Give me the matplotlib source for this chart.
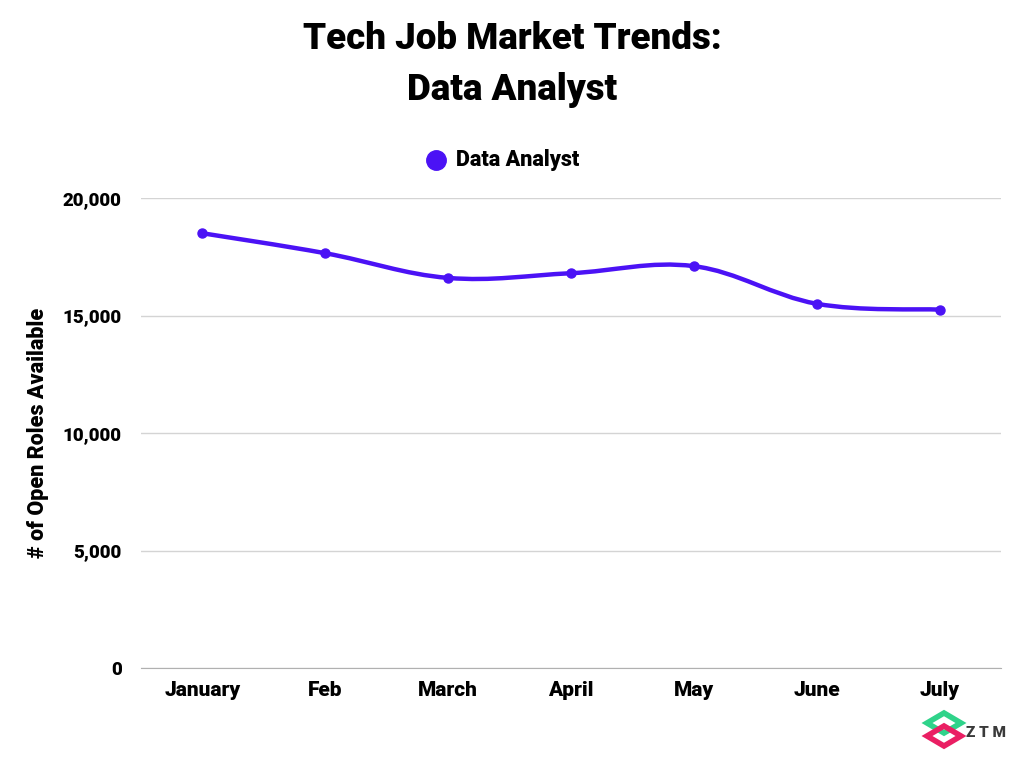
import numpy as np
import matplotlib.pyplot as plt
from matplotlib.path import Path
from matplotlib.patches import PathPatch, Polygon
from matplotlib.ticker import FuncFormatter

months = ['January', 'Feb', 'March', 'April', 'May', 'June', 'July']
data_analyst = [18500, 17650, 16600, 16800, 17100, 15500, 15250]

kolor = '#4B12F5'
font = 'Roboto'

fig = plt.figure(figsize=(10.24, 7.68), dpi=100)
ax = fig.add_axes([141/1024, 1-668/768, 860/1024, 470/768])

x = np.arange(len(months))
y = np.array(data_analyst, dtype=float)

# gladka linia - spline kardynalny jako krzywe Beziera
k = 0.36
m = np.zeros((len(x), 2))
pts = np.column_stack([x, y])
for i in range(len(x)):
    a = pts[max(i-1, 0)]
    b = pts[min(i+1, len(x)-1)]
    m[i] = (b - a) * k
verts = [tuple(pts[0])]
codes = [Path.MOVETO]
for i in range(len(x)-1):
    c1 = pts[i] + m[i]/2
    c2 = pts[i+1] - m[i+1]/2
    verts += [tuple(c1), tuple(c2), tuple(pts[i+1])]
    codes += [Path.CURVE4]*3
ax.add_patch(PathPatch(Path(verts, codes), fill=False, edgecolor=kolor, lw=3.2,
                       capstyle='round', joinstyle='round', zorder=3))
ax.plot(x, y, 'o', color=kolor, ms=6.5, zorder=4)

ax.set_xlim(-0.5, 6.5)
ax.set_ylim(0, 20000)
ax.set_yticks([0, 5000, 10000, 15000, 20000])
ax.yaxis.set_major_formatter(FuncFormatter(lambda v, p: f'{int(v):,}'))
ax.set_xticks(x)
ax.set_xticklabels(months)
ax.grid(axis='y', color='#d4d4d4', lw=1)
ax.set_axisbelow(True)
for s in ['top', 'right', 'left']:
    ax.spines[s].set_visible(False)
ax.spines['bottom'].set_color('#b0b0b0')
ax.tick_params(length=0)
ax.tick_params(axis='y', pad=14)
ax.tick_params(axis='x', pad=9)
for lab in ax.get_yticklabels():
    lab.set_fontfamily(font)
    lab.set_fontweight('black')
    lab.set_fontsize(13.5)
for lab in ax.get_xticklabels():
    lab.set_fontfamily(font)
    lab.set_fontweight('black')
    lab.set_fontsize(15)
ax.set_ylabel('# of Open Roles Available', fontfamily=font, fontweight='black',
              fontsize=15.5, labelpad=10)

fig.text(0.5, 1-39/768, 'Tech Job Market Trends:', ha='center', va='center',
         fontfamily=font, fontweight='black', fontsize=26.5)
fig.text(0.5, 1-90/768, 'Data Analyst', ha='center', va='center',
         fontfamily=font, fontweight='black', fontsize=26.5)

# legenda
fig.lines.append(plt.Line2D([436/1024], [1-160/768], marker='o', ms=14, color=kolor,
                            transform=fig.transFigure))
fig.text(456/1024, 1-160/768, 'Data Analyst', ha='left', va='center',
         fontfamily=font, fontweight='black', fontsize=15.5)

# logo ZTM
lax = fig.add_axes([920/1024, 1-754/768, 48/1024, 48/768])
lax.set_xlim(0, 48)
lax.set_ylim(0, 48)
lax.axis('off')
lax.add_patch(Polygon([(7, 31), (24, 41), (41, 31), (24, 21)], closed=True, fill=False,
                      edgecolor='#2fd38a', lw=4))
lax.add_patch(Polygon([(7, 18), (24, 28), (41, 18), (24, 8)], closed=True, fill=False,
                      edgecolor='#ea1f63', lw=4))
fig.text(966/1024, 1-733/768, 'Z T M', ha='left', va='center', fontfamily=font,
         fontweight='black', fontsize=11, color='#3a3a3a')

fig.savefig('out.png', dpi=100)
